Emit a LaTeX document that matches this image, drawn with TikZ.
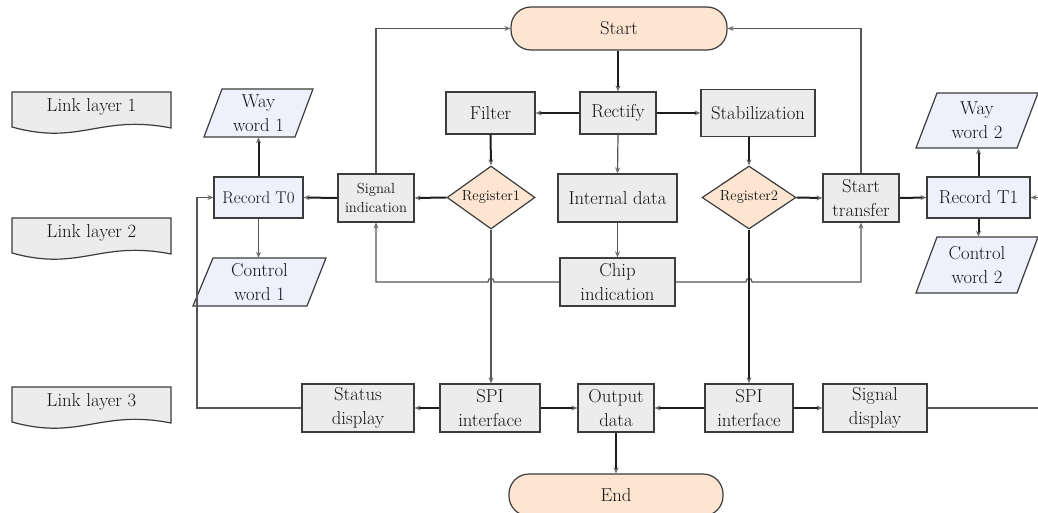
\documentclass[tikz,border=0pt]{standalone}
\usetikzlibrary{arrows.meta,shapes.geometric,calc,backgrounds}
\definecolor{boxgray}{HTML}{ECECEC}
\definecolor{bordergray}{HTML}{3C3C3C}
\definecolor{boxblue}{HTML}{EEF1FB}
\definecolor{peach}{HTML}{FDE5D1}
\definecolor{thinline}{HTML}{555555}
\definecolor{thickline}{HTML}{1E1E1E}
\definecolor{tipgray}{HTML}{6E6E6E}
\newcommand{\mainfs}{\fontsize{18.7}{24}\selectfont}
\newcommand{\smallfs}{\fontsize{14.6}{19.5}\selectfont}
\tikzset{
  base/.style={draw=bordergray, line width=1.2pt, inner sep=0pt, align=center, font=\mainfs, text=black!92},
  gbox/.style={base, fill=boxgray},
  bbox/.style={base, fill=boxblue},
  term/.style={base, fill=peach, rounded corners=20pt},
  dia/.style={base, diamond, aspect=1.4, fill=peach, font=\smallfs},
  txt/.style={inner sep=0pt, align=center, font=\mainfs, text=black!92},
  shapeline/.style={draw=bordergray, line width=1.2pt},
  thk/.style={draw=thickline, line width=2pt, -{Stealth[length=6pt,width=5pt,color=tipgray]}},
  thn/.style={draw=thinline, line width=1.2pt, -{Stealth[length=6pt,width=5pt,color=tipgray]}},
}
\begin{document}
\begin{tikzpicture}[x=1pt,y=-1pt]
\clip (0,0) rectangle (1038,513);
\fill[white] (0,0) rectangle (1038,513);

% Link layer document shapes
\foreach \yy/\nm/\lab in {92/ll1/Link layer 1, 218/ll2/Link layer 2, 387/ll3/Link layer 3}{
  \filldraw[shapeline, fill=boxgray] (12,\yy) -- (171,\yy) -- (171,\yy+36)
     .. controls (100,\yy+22) and (80,\yy+54) .. (12,\yy+35) -- cycle;
  \node[txt] (\nm) at (91.5,\yy+15) {\lab};
}

% Terminals
\node[term, minimum width=216, minimum height=43] (start) at (619,28.5) {Start};
\node[term, minimum width=214, minimum height=42] (endn) at (616,495) {End};

% Row 1
\node[gbox, minimum width=89, minimum height=42] (filter) at (490.5,113) {Filter};
\node[gbox, minimum width=76, minimum height=42] (rectify) at (618,113) {Rectify};
\node[gbox, minimum width=114, minimum height=47] (stab) at (758,113) {Stabilization};

% Row 2
\node[dia, minimum width=88, minimum height=63] (reg1) at (491,197.5) {Register1};
\node[dia, minimum width=94, minimum height=63] (reg2) at (749,197.5) {Register2};
\node[gbox, minimum width=76, minimum height=48, font=\smallfs] (sig) at (376,198) {Signal\\indication};
\node[gbox, minimum width=119, minimum height=48] (internal) at (617.5,198) {Internal data};
\node[gbox, minimum width=76, minimum height=48] (starttr) at (861,198) {Start\\transfer};
\node[bbox, minimum width=103, minimum height=41] (rec1) at (978.5,197.5) {Record T1};
\node[bbox, minimum width=89, minimum height=41, font=\fontsize{17}{22}\selectfont] (rec0) at (258.5,197.5) {Record T0};

% Chip indication
\node[gbox, minimum width=115, minimum height=48] (chip) at (617.5,282) {Chip\\indication};

% Parallelograms
\filldraw[shapeline, fill=boxblue] (204,137) -- (295,137) -- (313,89) -- (222,89) -- cycle;
\node[txt, minimum width=91, minimum height=48] (ww1) at (258.5,113) {Way\\word 1};
\filldraw[shapeline, fill=boxblue] (193,306) -- (307,306) -- (326,258) -- (213,258) -- cycle;
\node[txt, minimum width=94, minimum height=48] (cw1) at (259.5,282) {Control\\word 1};
\filldraw[shapeline, fill=boxblue] (916,148) -- (1017,148) -- (1038,93) -- (937,93) -- cycle;
\node[txt, minimum width=101, minimum height=55] (ww2) at (977,120.5) {Way\\word 2};
\filldraw[shapeline, fill=boxblue] (916,293) -- (1017,293) -- (1038,237) -- (937,237) -- cycle;
\node[txt, minimum width=101, minimum height=56] (cw2) at (977,265) {Control\\word 2};

% Bottom row
\node[gbox, minimum width=112, minimum height=48] (status) at (358,408) {Status\\display};
\node[gbox, minimum width=100, minimum height=48] (spi1) at (490,408) {SPI\\interface};
\node[gbox, minimum width=76, minimum height=48] (out) at (616,408) {Output\\data};
\node[gbox, minimum width=88, minimum height=48] (spi2) at (749,408) {SPI\\interface};
\node[gbox, minimum width=104, minimum height=48] (sigd) at (875,408) {Signal\\display};

% Outer route corners
\coordinate (leftx) at (197,0);
\coordinate (rightx) at (1050,0);

% Connectors
\draw[thk] (start.south -| rectify.north) -- (rectify.north);
\draw[thk] (rectify.west) -- (filter.east);
\draw[thk] (rectify.east) -- (stab.west);
\draw[thn] (rectify.south) -- (internal.north);
\draw[thk] (filter.south) -- (reg1.north);
\draw[thk] (stab.south -| reg2.north) -- (reg2.north);
\draw[thk] (reg1.west) -- (sig.east);
\draw[thk] (sig.west) -- (rec0.east);
\draw[thn] (sig.north) |- (start.west);
\draw[thk] (reg2.east) -- (starttr.west);
\draw[thn] (starttr.north) |- (start.east);
\draw[thk] (starttr.east) -- (rec1.west);
\draw[thk] (rec0.north) -- (rec0.north |- ww1.south);
\draw[thn] (rec0.south) -- (rec0.south |- cw1.north);
\draw[thk] (rec1.north) -- (rec1.north |- ww2.south);
\draw[thk] (rec1.south) -- (rec1.south |- cw2.north);
\draw[thn] (internal.south) -- (chip.north);

% Chip indication to signal indication with hop over Register1 line
\draw[thn] (chip.west) -- ($(reg1.south |- chip.west)+(3,0)$)
   .. controls ($(reg1.south |- chip.west)+(3,-5)$) and ($(reg1.south |- chip.west)+(-3,-5)$) ..
   ($(reg1.south |- chip.west)+(-3,0)$) -- (sig.south |- chip.west) -- (sig.south);
% Chip indication to start transfer with hop over Register2 line
\draw[thn] (chip.east) -- ($(reg2.south |- chip.east)+(-3,0)$)
   .. controls ($(reg2.south |- chip.east)+(-3,-5)$) and ($(reg2.south |- chip.east)+(3,-5)$) ..
   ($(reg2.south |- chip.east)+(3,0)$) -- (starttr.south |- chip.east) -- (starttr.south);

\draw[thn] (reg1.south) -- (reg1.south |- spi1.north);
\draw[thk] (reg2.south) -- (spi2.north);
\draw[thk] (spi1.west) -- (status.east);
\draw[thk] (spi1.east) -- (out.west);
\draw[thk] (spi2.west) -- (out.east);
\draw[thk] (spi2.east) -- (sigd.west);
\draw[thk] (out.south) -- (endn.north);
\draw[thn] (status.west) -- (leftx |- status.west) -- (leftx |- rec0.west) -- (rec0.west);
\draw[thn] (sigd.east) -- (rightx |- sigd.east) -- (rightx |- rec1.east) -- (rec1.east);
\end{tikzpicture}
\end{document}
